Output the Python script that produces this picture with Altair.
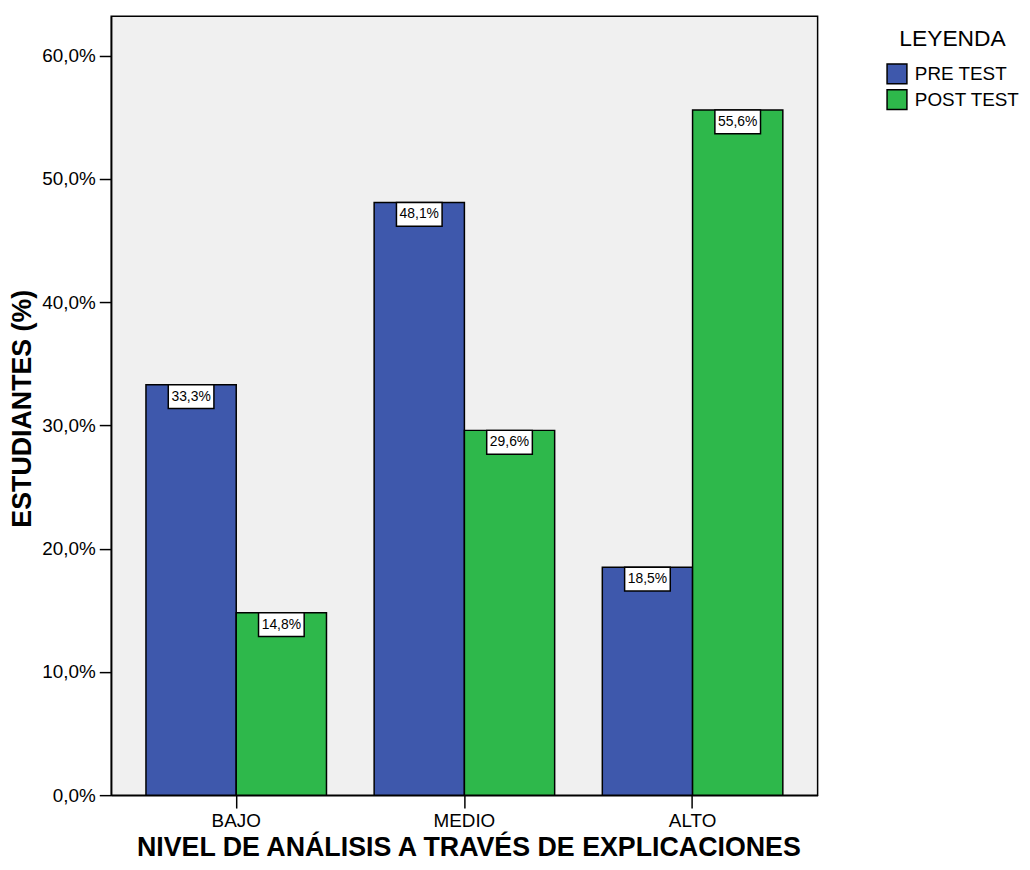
import altair as alt
import pandas as pd

categories = ["BAJO", "MEDIO", "ALTO"]
series = ["PRE TEST", "POST TEST"]
pre_test = [33.3, 48.1, 18.5]
post_test = [14.8, 29.6, 55.6]
colors = ["#3E58AC", "#2EB84B"]

rows = []
for c, v in zip(categories, pre_test):
    rows.append({"nivel": c, "serie": "PRE TEST", "valor": v})
for c, v in zip(categories, post_test):
    rows.append({"nivel": c, "serie": "POST TEST", "valor": v})
df = pd.DataFrame(rows)
df["etiqueta"] = df["valor"].map(lambda v: f"{v:.1f}".replace(".", ",") + "%")

FONT = "Liberation Sans"

x_enc = alt.X(
    "nivel:N",
    sort=categories,
    scale=alt.Scale(paddingInner=0, paddingOuter=0.048),
    axis=alt.Axis(
        title="NIVEL DE ANÁLISIS A TRAVÉS DE EXPLICACIONES",
        labelAngle=0,
        tickSize=13,
        labelPadding=4,
        labelFontSize=19,
        titleFontSize=27,
        titleFontWeight="bold",
        titleBaseline="alphabetic",
        titleX=360,
        titleY=61,
    ),
)
xoff = alt.XOffset("serie:N", sort=series, scale=alt.Scale(paddingInner=0, paddingOuter=0.264))
y_enc = alt.Y(
    "valor:Q",
    scale=alt.Scale(domain=[0, 63.2], nice=False),
    axis=alt.Axis(
        title="ESTUDIANTES (%)",
        values=[0, 10, 20, 30, 40, 50, 60],
        labelExpr="replace(format(datum.value, '.1f'), '.', ',') + '%'",
        tickSize=12,
        labelPadding=4,
        labelFontSize=19,
        grid=False,
        titleFontSize=27,
        titleFontWeight="bold",
        titleBaseline="alphabetic",
        titleAngle=-90,
        titleX=-81,
        titleY=395,
    ),
)

bars = alt.Chart(df).mark_bar(stroke="black", strokeWidth=1.5).encode(
    x=x_enc,
    xOffset=xoff,
    y=y_enc,
    color=alt.Color(
        "serie:N",
        sort=series,
        scale=alt.Scale(domain=series, range=colors),
        legend=alt.Legend(
            title="LEYENDA",
            orient="none",
            legendX=781,
            legendY=12,
            titleFontSize=23,
            titleFontWeight="normal",
            titleAnchor="middle",
            titlePadding=12,
            labelFontSize=19,
            symbolType="square",
            symbolSize=400,
            symbolStrokeColor="black",
            symbolStrokeWidth=1.5,
            symbolOpacity=1,
            rowPadding=0,
            labelOffset=7,
        ),
    ),
)

boxes = alt.Chart(df).mark_point(
    shape="M-1,0H1V1.0435H-1Z",
    size=2116,
    filled=True,
    fill="white",
    stroke="black",
    strokeWidth=1.5,
    opacity=1,
).encode(
    x=alt.X("nivel:N", sort=categories),
    xOffset=alt.XOffset("serie:N", sort=series),
    y=alt.Y("valor:Q"),
)

labels = alt.Chart(df).mark_text(
    fontSize=14, baseline="middle", align="center", dy=12, color="black", font=FONT
).encode(
    x=alt.X("nivel:N", sort=categories),
    xOffset=alt.XOffset("serie:N", sort=series),
    y=alt.Y("valor:Q"),
    text="etiqueta:N",
)

chart = (
    alt.layer(bars, boxes, labels)
    .properties(
        width=712,
        height=785,
        autosize=alt.AutoSizeParams(type="none"),
        padding={"left": 104, "top": 5, "right": 206, "bottom": 64},
    )
    .configure(font=FONT)
    .configure_view(fill="#F0F0F0", stroke="black", strokeWidth=1.5)
    .configure_axis(
        domainColor="black",
        domainWidth=1.5,
        tickColor="black",
        tickWidth=1.5,
        labelColor="black",
        titleColor="black",
        labelFont=FONT,
        titleFont=FONT,
    )
    .configure_legend(labelFont=FONT, titleFont=FONT, labelColor="black", titleColor="black")
)

chart.save("out.html", embed_options={"renderer": "svg", "actions": False})
